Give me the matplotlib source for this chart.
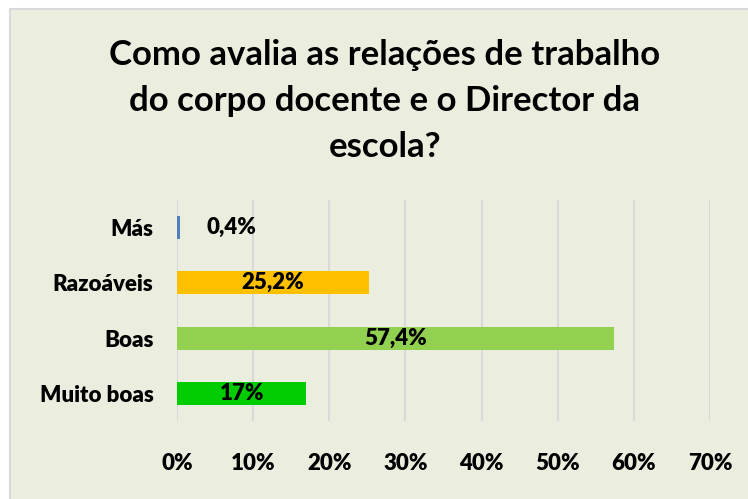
import matplotlib
matplotlib.use("Agg")
import matplotlib.pyplot as plt
from matplotlib.patches import Rectangle
from matplotlib.ticker import FuncFormatter

categories = ["Muito boas", "Boas", "Razoáveis", "Más"]
values = [17.0, 57.4, 25.2, 0.4]
labels = ["17%", "57,4%", "25,2%", "0,4%"]
colors = ["#00CC00", "#92D050", "#FFC000", "#4F81BD"]
xticks = [0, 10, 20, 30, 40, 50, 60, 70]

plt.rcParams['font.family'] = ['Lato', 'DejaVu Sans']
plt.rcParams['font.weight'] = 'bold'

W, H = 748, 499
fig = plt.figure(figsize=(W/100, H/100), dpi=100, facecolor="white")
bg = "#EBEEDF"
fig.patches.append(Rectangle((10/W, -0.01), 1.0, 1 - 9/H + 0.01, transform=fig.transFigure,
                             facecolor=bg, edgecolor="#D9D9D9", linewidth=1.5, zorder=-5))

ax = fig.add_axes([177/W, 1 - 421/H, (710-177)/W, 221/H])
ax.set_zorder(2)
ax.set_facecolor("none")
ax.barh(range(len(categories)), values, height=0.42, color=colors, zorder=3)
ax.set_xlim(0, 70)
ax.set_ylim(-0.5, 3.5)
ax.set_xticks(xticks)
ax.xaxis.set_major_formatter(FuncFormatter(lambda v, p: f"{int(v)}%"))
ax.set_yticks(range(len(categories)))
ax.set_yticklabels(categories)
ax.grid(axis="x", color="#D9D9D9", linewidth=1.5, zorder=0)
for s in ax.spines.values():
    s.set_visible(False)
ax.tick_params(axis="both", length=0, labelsize=16, colors="black")
ax.tick_params(axis="x", pad=23)
ax.tick_params(axis="y", pad=17)
for lbl in ax.get_xticklabels() + ax.get_yticklabels():
    lbl.set_fontweight("heavy")

for i, (v, t) in enumerate(zip(values, labels)):
    if v < 3:
        ax.text(v + 3.5, i, t, ha="left", va="center", fontsize=16, fontweight="heavy", zorder=4)
    else:
        ax.text(v / 2, i, t, ha="center", va="center", fontsize=16, fontweight="heavy", zorder=4)

fig.text(385/W, 1 - 101/H, "Como avalia as relações de trabalho\ndo corpo docente e o Director da\nescola?",
         ha="center", va="center", fontsize=25, fontweight="bold", linespacing=1.55, zorder=3)

fig.savefig("out.png", dpi=100, facecolor="white")
